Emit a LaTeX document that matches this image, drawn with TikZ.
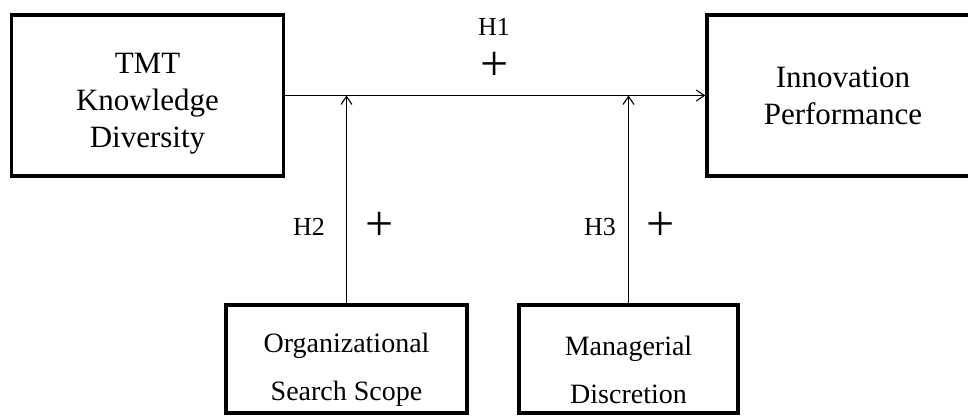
\documentclass[tikz,border=0pt]{standalone}
\usepackage{fontspec}
\setmainfont{Liberation Serif}
\usetikzlibrary{calc}
\usetikzlibrary{arrows.meta}

\tikzset{
    varbox/.style   = {draw, line width=3.5pt, inner sep=0pt, align=center},
    bigbox/.style   = {varbox, minimum width=272pt, minimum height=161pt,
                       font=\fontsize{31}{37}\selectfont},
    bigtext/.style  = {align=center, inner sep=0pt, font=\fontsize{31}{37}\selectfont},
    modbox/.style   = {varbox, minimum height=108pt},
    modtext/.style  = {align=center, inner sep=0pt, font=\fontsize{28}{48}\selectfont},
    link/.style     = {line width=1.1pt, -{Straight Barb[length=8pt, width=11pt]}},
    hyp/.style      = {inner sep=0pt, font=\fontsize{26}{30}\selectfont},
    plus/.style     = {inner sep=0pt, font=\fontsize{50}{50}\selectfont}
}

\begin{document}
\begin{tikzpicture}[x=1pt, y=-1pt]
            % Frame to fix the page:
            \useasboundingbox                                              (0, 0) rectangle (968, 415);
            % Main variables
            \node[bigbox] (tmt)   at (147.5, 95.5)                         {};
            \node[bigtext] (tmttext) at ($(tmt.center)+(0, 8.0)$)          {TMT\\Knowledge\\Diversity};
            \node[bigbox] (innov) at (843.0, 95.5)                         {Innovation\\Performance};
            % Moderators
            \node[modbox, minimum width=241pt] (scope) at (346.5, 359.0)   {};
            \node[modbox, minimum width=219pt] (discr) at (628.5, 359.0)   {};
            \node[modtext] (scopetext) at ($(scope.center)+(0, 10.5)$)     {Organizational\\Search Scope};
            \node[modtext] (discrtext) at ($(discr.center)+(0, 10.5)$)     {Managerial\\Discretion};
            % Meeting points on the main path
            \coordinate (m2) at (scope.north |- tmt.east);
            \coordinate (m3) at (discr.north |- tmt.east);
            % Paths
            \draw[link] (tmt)   -- (innov);
            \draw[link] (scope) -- (m2);
            \draw[link] (discr) -- (m3);
            % Hypotheses
            \node[hyp]  (h1) at (494.0,  27.0)                             {H1};
            \node[plus] (p1) at (494.5,  66.0)                             {+};
            \node[hyp]  (h2) at (309.0, 227.0)                             {H2};
            \node[plus] (p2) at (380.0, 226.0)                             {+};
            \node[hyp]  (h3) at (600.0, 227.0)                             {H3};
            \node[plus] (p3) at (660.5, 226.0)                             {+};
        \end{tikzpicture}
\end{document}
